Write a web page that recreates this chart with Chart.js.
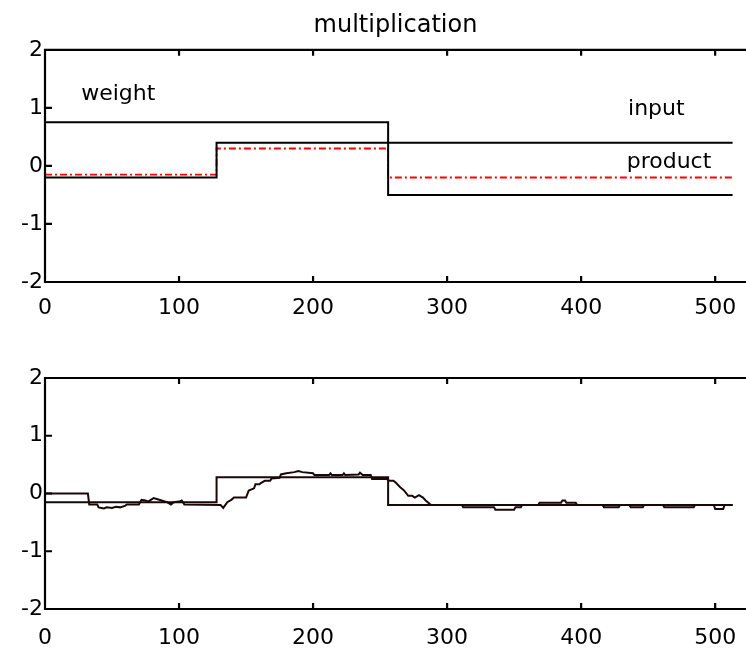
<!DOCTYPE html>
<html>
<head>
<meta charset="utf-8">
<script src="https://cdn.jsdelivr.net/npm/chart.js@4.4.1/dist/chart.umd.min.js"></script>
<style>
  html, body { margin: 0; padding: 0; background: #fff; overflow: hidden; width: 746px; height: 651px; }
  #topChart { position: absolute; left: 0; top: 0; }
  #bottomChart { position: absolute; left: 0; top: 330px; }
</style>
</head>
<body>
<canvas id="topChart" width="746" height="330"></canvas>
<canvas id="bottomChart" width="746" height="321"></canvas>
<script>
// top plot: step signals (sample index where each level starts)
const stepT = [0, 128, 256, 513];
const weight = [0.75, 0.75, -0.5, -0.5];
const input = [-0.2, 0.4, 0.4, 0.4];
const product = [-0.15, 0.3, -0.2, -0.2];

// bottom plot: target product and the adaptive estimate
const targetT = [0, 128, 256, 513];
const target = [-0.15, 0.28, -0.2, -0.2];
const estT = [0, 32, 33, 39, 40, 44, 46, 50, 53, 56, 60, 61, 70, 72, 75, 77, 81, 84, 87, 91, 94, 96, 100, 102, 104,
  131, 133, 136, 139, 141, 150, 152, 156, 157, 160, 161, 164, 168, 169, 175, 176, 180, 186, 189, 192, 200, 201,
  212, 213, 214, 222, 223, 224, 234, 235, 237, 243, 244, 255, 257, 260, 262, 265, 268, 271, 274, 276, 279, 282,
  284, 288, 311, 312, 335, 336, 350, 351, 355, 356, 368, 369, 385, 386, 388, 389, 396, 397, 416, 417, 428, 429,
  436, 437, 446, 447, 461, 462, 484, 485, 499, 500, 506, 507, 513];
const estY = [0, 0, -0.19, -0.19, -0.24, -0.26, -0.24, -0.25, -0.23, -0.24, -0.21, -0.19, -0.19, -0.11, -0.12,
  -0.14, -0.08, -0.1, -0.12, -0.15, -0.19, -0.15, -0.14, -0.12, -0.19,
  -0.2, -0.25, -0.15, -0.11, -0.07, -0.07, 0.05, 0.09, 0.16, 0.16, 0.18, 0.22, 0.22, 0.26, 0.27, 0.33, 0.35, 0.37,
  0.39, 0.37, 0.35, 0.32, 0.32, 0.35, 0.32, 0.32, 0.35, 0.32, 0.33, 0.36, 0.32, 0.32, 0.25, 0.25, 0.22, 0.22,
  0.18, 0.11, 0.05, -0.04, -0.04, -0.07, -0.03, -0.07, -0.12, -0.2, -0.2, -0.24, -0.24, -0.28, -0.28, -0.24,
  -0.24, -0.2, -0.2, -0.16, -0.16, -0.12, -0.12, -0.16, -0.16, -0.2, -0.2, -0.24, -0.24, -0.2, -0.2, -0.24,
  -0.24, -0.2, -0.2, -0.24, -0.24, -0.2, -0.2, -0.27, -0.27, -0.2, -0.2];

const xTicks = [0, 100, 200, 300, 400, 500];
const yTicks = [-2, -1, 0, 1, 2];

// text labels placed in data units, like text(x, y, str)
const notes = [
  { text: "weight", x: 27, y: 1.14 },
  { text: "input", x: 435, y: 0.88 },
  { text: "product", x: 434, y: -0.03 },
];

Chart.defaults.font.family = "'DejaVu Sans', sans-serif";
Chart.defaults.color = "#000";

function toPoints(t, v) {
  return t.map((x, i) => ({ x: x, y: v[i] }));
}

// box on three sides with inward ticks
const boxAxes = {
  id: "boxAxes",
  afterDatasetsDraw(chart) {
    const { ctx, chartArea: a, scales } = chart;
    ctx.save();
    ctx.strokeStyle = "#000";
    ctx.lineWidth = 2.2;
    ctx.beginPath();
    ctx.moveTo(a.right + 4, a.top);
    ctx.lineTo(a.left, a.top);
    ctx.lineTo(a.left, a.bottom);
    ctx.lineTo(a.right + 4, a.bottom);
    scales.x.ticks.forEach((t) => {
      const px = scales.x.getPixelForValue(t.value);
      if (px < a.left + 2) return;
      ctx.moveTo(px, a.bottom);
      ctx.lineTo(px, a.bottom - 6);
      ctx.moveTo(px, a.top);
      ctx.lineTo(px, a.top + 6);
    });
    scales.y.ticks.forEach((t) => {
      const py = scales.y.getPixelForValue(t.value);
      ctx.moveTo(a.left, py);
      ctx.lineTo(a.left + 7, py);
    });
    ctx.stroke();

    const list = chart.options.plugins.boxAxes.notes || [];
    ctx.fillStyle = "#000";
    ctx.font = "22px 'DejaVu Sans'";
    ctx.textBaseline = "alphabetic";
    ctx.textAlign = "left";
    list.forEach((n) => {
      ctx.fillText(n.text, scales.x.getPixelForValue(n.x), scales.y.getPixelForValue(n.y));
    });
    ctx.restore();
  },
};

function makeOptions(padTop, xHeight, labelPad, title, noteList) {
  return {
    responsive: false,
    animation: false,
    events: [],
    layout: { padding: { top: padTop, left: 0, right: 0, bottom: 0 } },
    plugins: {
      legend: { display: false },
      tooltip: { enabled: false },
      title: {
        display: !!title,
        text: title,
        fullSize: false,
        color: "#000",
        font: { size: 24, weight: "normal" },
        padding: { top: 11, bottom: 10 },
      },
      boxAxes: { notes: noteList },
    },
    scales: {
      x: {
        type: "linear",
        min: 0,
        max: 523,
        grid: { display: false, drawTicks: false },
        border: { display: false },
        ticks: { font: { size: 22 }, padding: labelPad, maxRotation: 0 },
        afterBuildTicks: (s) => { s.ticks = xTicks.map((v) => ({ value: v })); },
        afterFit: (s) => {
          s.height = xHeight;
          s.paddingLeft = 0;
          s.paddingRight = 0;
        },
      },
      y: {
        min: -2,
        max: 2,
        grid: { display: false, drawTicks: false },
        border: { display: false },
        ticks: { font: { size: 22 }, padding: 2 },
        afterBuildTicks: (s) => { s.ticks = yTicks.map((v) => ({ value: v })); },
        afterFit: (s) => {
          s.width = 45;
          s.paddingTop = 0;
          s.paddingBottom = 0;
        },
      },
    },
  };
}

function lineSet(data, color, width, dash, stepped) {
  return {
    data: data,
    borderColor: color,
    borderWidth: width,
    borderDash: dash,
    pointRadius: 0,
    stepped: stepped,
    tension: 0,
    fill: false,
  };
}

new Chart(document.getElementById("topChart"), {
  type: "line",
  data: {
    datasets: [
      lineSet(toPoints(stepT, weight), "#000", 2, [], true),
      lineSet(toPoints(stepT, input), "#000", 2, [], true),
      lineSet(toPoints(stepT, product), "#ff0000", 1.8, [7, 3, 2, 3], true),
    ],
  },
  options: makeOptions(0, 48, 13, "multiplication", notes),
  plugins: [boxAxes],
});

new Chart(document.getElementById("bottomChart"), {
  type: "line",
  data: {
    datasets: [
      lineSet(toPoints(targetT, target), "#1a0808", 2, [], true),
      lineSet(toPoints(estT, estY), "#1a0808", 2, [], false),
    ],
  },
  options: makeOptions(48, 42, 16, "", []),
  plugins: [boxAxes],
});
</script>
</body>
</html>
